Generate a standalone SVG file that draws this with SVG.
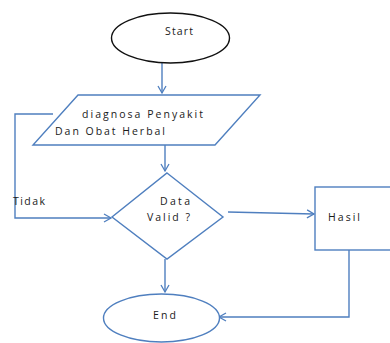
<svg xmlns="http://www.w3.org/2000/svg" width="390" height="343" viewBox="0 0 390 343">
<defs>
<style>
.s{fill:#fff;stroke:#4f7fbf;stroke-width:1.4}
.c{fill:none;stroke:#4f7fbf;stroke-width:1.4}
.t{font-family:"Open Sans","Liberation Sans",Arial,sans-serif;font-size:10.5px;fill:#1a1a1a}
</style>
<marker id="a" markerWidth="10" markerHeight="10" refX="8" refY="5" orient="auto" markerUnits="userSpaceOnUse">
<path d="M1,1 L8,5 L1,9" fill="none" stroke="#4f7fbf" stroke-width="1.3"/>
</marker>
</defs>
<rect width="390" height="343" fill="#fff"/>
<g id="connectors">
<path class="c" d="M162,63 V93" marker-end="url(#a)"/>
<path class="c" d="M165,145 V171" marker-end="url(#a)"/>
<path class="c" d="M53,114 H15 V218 H111" marker-end="url(#a)"/>
<path class="c" d="M228,212 L314,214" marker-end="url(#a)"/>
<path class="c" d="M165,259 V292" marker-end="url(#a)"/>
<path class="c" d="M349,250 V317 H219" marker-end="url(#a)"/>
</g>
<g id="start">
<ellipse cx="170.5" cy="38" rx="59" ry="25" fill="#fff" stroke="#111" stroke-width="1.4"/>
<text class="t" x="165" y="35" textLength="28">Start</text>
</g>
<g id="input">
<polygon class="s" points="78,95 260,95 215,145 33,145"/>
<text class="t" x="82" y="118" textLength="121">diagnosa  Penyakit</text>
<text class="t" x="55" y="135" textLength="110">Dan Obat Herbal</text>
</g>
<g id="decision">
<polygon class="s" points="167,173 223,217 167,259 112,217"/>
<text class="t" x="160" y="205" textLength="30">Data</text>
<text class="t" x="147" y="221" textLength="43">Valid ?</text>
</g>
<g id="tidak">
<text class="t" x="13" y="205" textLength="32">Tidak</text>
</g>
<g id="hasil">
<rect class="s" x="315" y="187" width="85" height="63"/>
<text class="t" x="328" y="221" textLength="32">Hasil</text>
</g>
<g id="end">
<ellipse class="s" cx="161.5" cy="318" rx="58" ry="24"/>
<text class="t" x="153" y="319" textLength="23">End</text>
</g>
</svg>
